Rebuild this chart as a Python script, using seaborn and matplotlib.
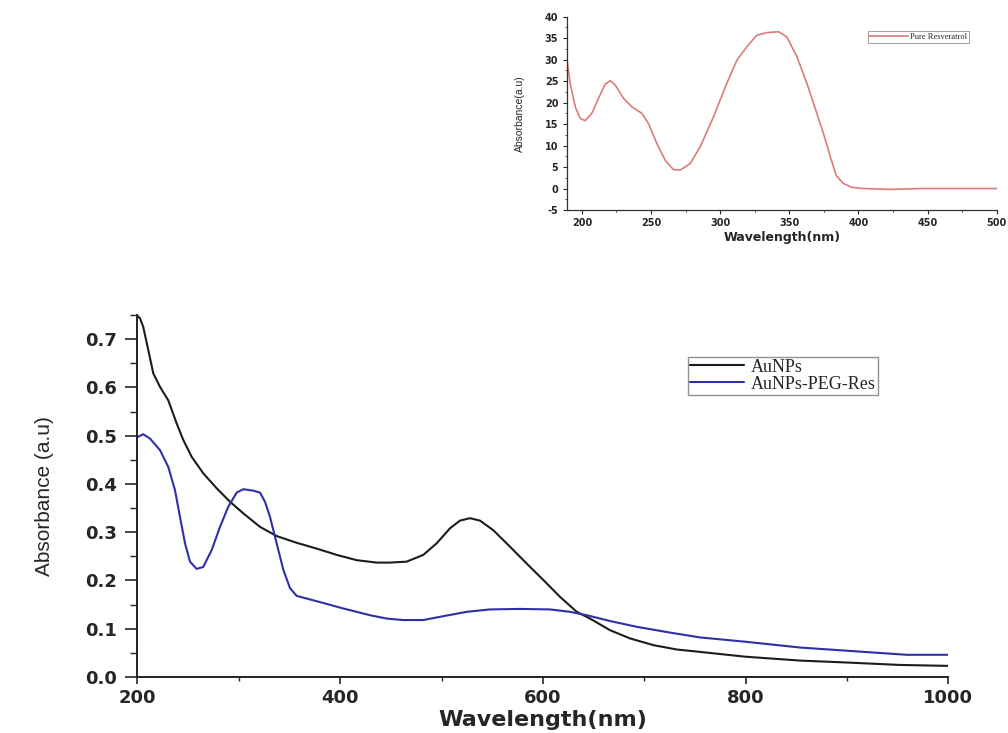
import matplotlib
matplotlib.use("Agg")
import matplotlib.pyplot as plt
from matplotlib.ticker import MultipleLocator
import seaborn as sns
import pandas as pd

sns.set_style("ticks")
plt.rcParams["font.family"] = ["DejaVu Sans"]
plt.rcParams["axes.unicode_minus"] = False

## DATA

aunps_nm = [200, 202.5, 205.7, 210.7, 215.6, 222.2, 230.4, 238.7, 245.2, 253.5, 264.9, 278.1,
            291.3, 304.4, 320.9, 337.3, 357.1, 376.8, 396.5, 416.3, 436, 449.1, 465.6, 482,
            495.2, 508.3, 518.2, 528.1, 537.9, 551.1, 567.5, 584, 600.4, 616.9, 633.4, 646.5,
            666.2, 685.9, 709, 732, 755, 800, 854, 900, 952, 1000]
aunps_abs = [0.748, 0.743, 0.725, 0.677, 0.629, 0.601, 0.573, 0.525, 0.491, 0.456, 0.422, 0.391,
             0.363, 0.339, 0.311, 0.292, 0.278, 0.266, 0.253, 0.242, 0.237, 0.237, 0.239, 0.253,
             0.277, 0.308, 0.324, 0.329, 0.324, 0.304, 0.270, 0.235, 0.201, 0.166, 0.135, 0.121,
             0.097, 0.080, 0.066, 0.057, 0.052, 0.042, 0.034, 0.030, 0.025, 0.023]

peg_nm = [200, 205.7, 212.3, 222.2, 230.4, 237, 241.9, 246.9, 251.8, 258.4, 264.9, 273.2, 281.4,
          289.6, 297.9, 304.4, 314.3, 320.9, 325.8, 330.7, 337.3, 343.9, 350.5, 357.1, 376.8,
          403, 429.4, 445.9, 462.3, 482, 501.7, 524.8, 547.8, 577.4, 607, 626.7, 643.2, 666.2,
          692.5, 725.4, 755, 800, 854, 903, 959, 1000]
peg_abs = [0.497, 0.503, 0.494, 0.470, 0.435, 0.387, 0.332, 0.277, 0.239, 0.224, 0.228, 0.263,
           0.311, 0.353, 0.382, 0.389, 0.386, 0.382, 0.363, 0.332, 0.277, 0.222, 0.184, 0.168,
           0.157, 0.142, 0.128, 0.121, 0.118, 0.118, 0.126, 0.135, 0.140, 0.141, 0.140, 0.135,
           0.128, 0.116, 0.104, 0.092, 0.082, 0.073, 0.061, 0.054, 0.046, 0.046]

res_nm = [188, 189.6, 191.5, 195.2, 198.8, 202.4, 207.2, 212, 216.8, 220.5, 224.1, 230.1, 236.2,
          243.4, 248.2, 254.2, 260.2, 266.2, 271.1, 278.3, 285.5, 295.2, 304.8, 312.1, 319.3,
          326.5, 333.8, 342.2, 348.2, 355.5, 362.7, 369.9, 375, 380, 384, 389, 395, 403, 423,
          447, 500]
res_abs = [31.1, 29.1, 24.5, 19.0, 16.3, 15.8, 17.5, 21.0, 24.3, 25.1, 24.1, 21.0, 19.0,
           17.5, 15.1, 10.5, 6.6, 4.4, 4.3, 5.8, 9.7, 16.7, 24.5, 29.9, 33.0, 35.7, 36.3, 36.5,
           35.3, 30.7, 24.5, 17.5, 12.5, 7.0, 3.0, 1.2, 0.3, 0.0, -0.2, 0.0, 0.0]

main_df = pd.concat([
    pd.DataFrame({"nm": aunps_nm, "abs": aunps_abs, "sample": "AuNPs"}),
    pd.DataFrame({"nm": peg_nm, "abs": peg_abs, "sample": "AuNPs-PEG-Res"}),
])
res_df = pd.DataFrame({"nm": res_nm, "abs": res_abs, "sample": "Pure Resveratrol"})

## PLOT

fig = plt.figure(figsize=(10.08, 7.33), dpi=100)
ax = fig.add_axes([0.1364, 0.0764, 0.8044, 0.4939])

sns.lineplot(data=main_df, x="nm", y="abs", hue="sample", estimator=None, sort=False,
             palette={"AuNPs": "#1c1c1c", "AuNPs-PEG-Res": "#2f2fa8"}, linewidth=1.5, ax=ax)

ax.set_xlim(200, 1000)
ax.set_ylim(0, 0.75)
ax.xaxis.set_major_locator(MultipleLocator(200))
ax.xaxis.set_minor_locator(MultipleLocator(100))
ax.yaxis.set_minor_locator(MultipleLocator(0.05))
ax.set_yticks([0.0, 0.1, 0.2, 0.3, 0.4, 0.5, 0.6, 0.7])
ax.set_yticklabels(["0.0", "0.1", "0.2", "0.3", "0.4", "0.5", "0.6", "0.7"])
for s in ["top", "right"]:
    ax.spines[s].set_visible(False)
for s in ["left", "bottom"]:
    ax.spines[s].set_linewidth(1.4)
    ax.spines[s].set_color("#222222")
ax.tick_params(axis="y", which="major", length=9, width=1.2, pad=6, labelsize=13)
ax.tick_params(axis="y", which="minor", length=5, width=1.0)
ax.tick_params(axis="x", which="major", length=5, width=1.2, pad=4, labelsize=13)
ax.tick_params(axis="x", which="minor", length=3, width=1.0)
for lab in ax.get_xticklabels() + ax.get_yticklabels():
    lab.set_fontweight("bold")

ax.set_xlabel("Wavelength(nm)", fontsize=16, fontweight="bold", labelpad=2)
ax.set_ylabel("Absorbance (a.u)", fontsize=15, family="Liberation Sans", labelpad=22)

leg = ax.legend(loc="upper left", bbox_to_anchor=(0.679, 0.885), frameon=True, fancybox=False,
                prop={"family": "Liberation Serif", "size": 13}, handlelength=3.0,
                labelspacing=0.0, borderpad=0.12, handletextpad=0.35, borderaxespad=0)
leg.get_frame().set_edgecolor("#777777")
leg.get_frame().set_linewidth(1.0)

# inset: pure resveratrol spectrum
ins = fig.add_axes([0.5622, 0.7135, 0.4266, 0.2637])
sns.lineplot(data=res_df, x="nm", y="abs", hue="sample", estimator=None, sort=False,
             palette={"Pure Resveratrol": "#dc7b7b"}, linewidth=1.2, ax=ins)
ins.set_xlim(189, 500)
ins.set_ylim(-5, 40)
ins.xaxis.set_major_locator(MultipleLocator(50))
ins.xaxis.set_minor_locator(MultipleLocator(25))
ins.yaxis.set_major_locator(MultipleLocator(5))
ins.yaxis.set_minor_locator(MultipleLocator(2.5))
for s in ["top", "right"]:
    ins.spines[s].set_visible(False)
for s in ["left", "bottom"]:
    ins.spines[s].set_linewidth(0.9)
    ins.spines[s].set_color("#333333")
ins.tick_params(axis="both", which="major", length=3, width=0.8, pad=3, labelsize=7)
ins.tick_params(axis="both", which="minor", length=1.5, width=0.6)
for lab in ins.get_xticklabels() + ins.get_yticklabels():
    lab.set_fontweight("bold")
ins.set_xlabel("Wavelength(nm)", fontsize=9, fontweight="bold", labelpad=2)
ins.set_ylabel("Absorbance(a.u)", fontsize=7.5, family="Liberation Sans", labelpad=14)

ileg = ins.legend(loc="upper left", bbox_to_anchor=(0.70, 0.925), frameon=True, fancybox=False,
                  prop={"family": "Liberation Serif", "size": 6}, handlelength=4.6,
                  borderpad=0.2, handletextpad=0.3, borderaxespad=0)
ileg.get_frame().set_edgecolor("#888888")
ileg.get_frame().set_linewidth(0.7)

fig.savefig("out.png", dpi=100)
